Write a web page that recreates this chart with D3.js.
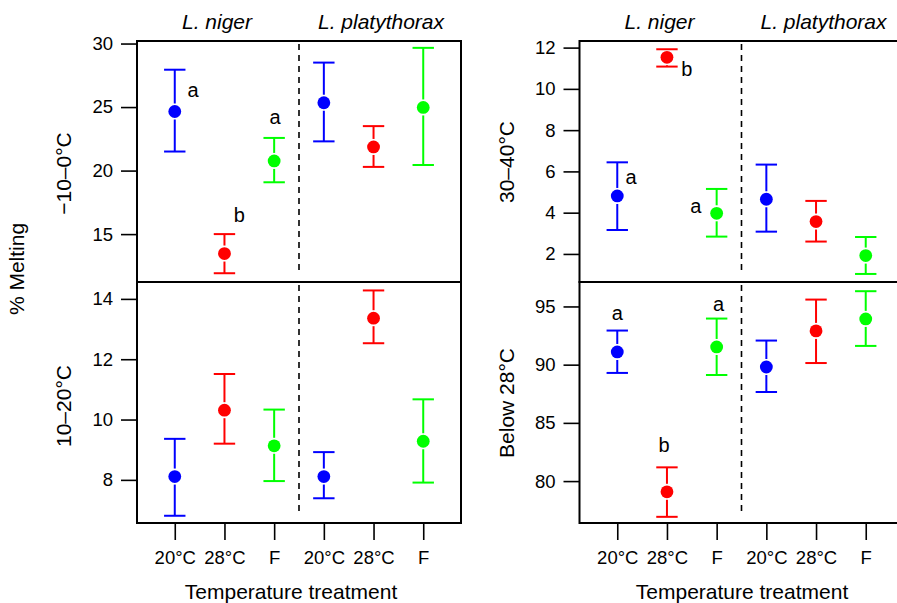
<!DOCTYPE html>
<html>
<head>
<meta charset="utf-8">
<script src="https://cdn.jsdelivr.net/npm/d3@7"></script>
<style>
  body { margin: 0; background: #fff; }
  svg text { font-family: "Liberation Sans", Arial, sans-serif; fill: #000; }
</style>
</head>
<body>
<svg id="chart" width="897" height="603"></svg>
<script>
// ---- data -------------------------------------------------------------------
var treatments = ["20°C", "28°C", "F", "20°C", "28°C", "F"];
var species    = ["L. niger", "L. platythorax"];
var speciesAt  = [1.85, 5.15];
var treatColor = ["#0000ff", "#ff0000", "#00ff00", "#0000ff", "#ff0000", "#00ff00"];

var panelNames = ["\u221210\u20130°C", "10\u201320°C", "30\u201340°C", "Below 28°C"];

// -10-0 C
var meanCold = [24.65, 13.47, 20.76, 25.34, 21.86, 24.97];
var loCold   = [21.50, 11.92, 19.08, 22.30, 20.29, 20.44];
var hiCold   = [27.94, 15.00, 22.57, 28.50, 23.50, 29.66];
var ticksCold = [15, 20, 25, 30];

// 10-20 C
var meanMid = [8.11, 10.31, 9.13, 8.11, 13.36, 9.28];
var loMid   = [6.81,  9.20, 7.96, 7.39, 12.53, 7.91];
var hiMid   = [9.36, 11.51, 10.33, 8.92, 14.28, 10.67];
var ticksMid = [8, 10, 12, 14];

// 30-40 C
var meanHot = [4.81, 11.53, 3.97, 4.65, 3.57, 1.92];
var loHot   = [3.16, 11.08, 2.84, 3.08, 2.60, 1.03];
var hiHot   = [6.44, 11.92, 5.15, 6.33, 4.57, 2.82];
var ticksHot = [2, 4, 6, 8, 10, 12];

// below 28 C
var meanLow = [91.09, 79.08, 91.52, 89.80, 92.90, 93.93];
var loLow   = [89.29, 76.93, 89.11, 87.65, 90.14, 91.61];
var hiLow   = [92.93, 81.18, 93.96, 92.07, 95.59, 96.31];
var ticksLow = [80, 85, 90, 95];

// significance letters: [x position, y value, letter]
var lettersCold = [[1.37, 25.83, "a"], [2.30, 15.98, "b"], [3.02, 23.67, "a"]];
var lettersHot  = [[1.28, 5.38, "a"], [2.40, 10.62, "b"], [2.58, 4.00, "a"]];
var lettersLow  = [[1.00, 93.84, "a"], [1.94, 82.52, "b"], [3.04, 94.63, "a"]];

// ---- layout -----------------------------------------------------------------
var svg = d3.select("#chart");
var boxW = 324, topY = 41, midY = 282, botY = 523;
var xDomain = [0.24, 6.76];

var columns = [
  { left: 137,   xlabAt: 291 },
  { left: 579.5, xlabAt: 742 }
];

var panels = [
  { col: 0, top: topY, bottom: midY, domain: [11.23, 30.2], name: panelNames[0], nameY: 173.5,
    mean: meanCold, lo: loCold, hi: hiCold, ticks: ticksCold, letters: lettersCold },
  { col: 0, top: midY, bottom: botY, domain: [6.57, 14.56], name: panelNames[1], nameY: 406,
    mean: meanMid, lo: loMid, hi: hiMid, ticks: ticksMid, letters: [] },
  { col: 1, top: topY, bottom: midY, domain: [0.64, 12.32], name: panelNames[2], nameY: 162,
    mean: meanHot, lo: loHot, hi: hiHot, ticks: ticksHot, letters: lettersHot },
  { col: 1, top: midY, bottom: botY, domain: [76.4, 97.1], name: panelNames[3], nameY: 403,
    mean: meanLow, lo: loLow, hi: hiLow, ticks: ticksLow, letters: lettersLow }
];

var capHalf = 10.7, gap = 8, dotR = 6.4;

columns.forEach(function(c) {
  c.x = d3.scaleLinear().domain(xDomain).range([c.left, c.left + boxW]);
});

panels.forEach(function(p) {
  var c = columns[p.col];
  var x = c.x;
  var y = d3.scaleLinear().domain(p.domain).range([p.bottom, p.top]);
  var g = svg.append("g");

  // y axis
  var yAxis = g.append("g")
    .attr("transform", "translate(" + c.left + ",0)")
    .call(d3.axisLeft(y).tickValues(p.ticks).tickSize(16).tickPadding(8).tickFormat(d3.format("d")));
  yAxis.select(".domain").remove();
  yAxis.selectAll(".tick line").attr("stroke", "#000").attr("stroke-width", 1.6);
  yAxis.selectAll(".tick text").style("font-size", "18.5px").attr("fill", "#000")
    .style("font-family", "'Liberation Sans', Arial, sans-serif");

  // panel name
  g.append("text")
    .attr("transform", "translate(" + (c.left - 66) + "," + p.nameY + ") rotate(-90)")
    .attr("text-anchor", "middle")
    .style("font-size", "21px")
    .text(p.name);

  // dashed divider between species
  g.append("line")
    .attr("x1", x(3.5)).attr("x2", x(3.5))
    .attr("y1", p.top + 3).attr("y2", p.bottom - 12)
    .attr("stroke", "#000").attr("stroke-width", 1.6)
    .attr("stroke-dasharray", "6,5");

  // error bars
  p.mean.forEach(function(m, i) {
    var cx = x(i + 1), ym = y(m), yh = y(p.hi[i]), yl = y(p.lo[i]);
    var col = treatColor[i];
    var bar = g.append("g").attr("stroke", col).attr("stroke-width", 2);
    if (ym - gap > yh) bar.append("line").attr("x1", cx).attr("x2", cx).attr("y1", yh).attr("y2", ym - gap);
    if (ym + gap < yl) bar.append("line").attr("x1", cx).attr("x2", cx).attr("y1", ym + gap).attr("y2", yl);
    bar.append("line").attr("x1", cx - capHalf).attr("x2", cx + capHalf).attr("y1", yh).attr("y2", yh);
    bar.append("line").attr("x1", cx - capHalf).attr("x2", cx + capHalf).attr("y1", yl).attr("y2", yl);
    g.append("circle").attr("cx", cx).attr("cy", ym).attr("r", dotR).attr("fill", col);
  });

  // letters
  p.letters.forEach(function(l) {
    g.append("text")
      .attr("x", x(l[0])).attr("y", y(l[1]))
      .attr("text-anchor", "middle")
      .style("font-size", "20px")
      .text(l[2]);
  });

  // box
  g.append("rect")
    .attr("x", c.left).attr("y", p.top)
    .attr("width", boxW).attr("height", p.bottom - p.top)
    .attr("fill", "none").attr("stroke", "#000").attr("stroke-width", 2);

  // top: species names; bottom: x axis
  if (p.top === topY) {
    species.forEach(function(s, k) {
      g.append("text")
        .attr("x", x(speciesAt[k])).attr("y", 29)
        .attr("text-anchor", "middle")
        .style("font-size", "21px").style("font-style", "italic")
        .text(s);
    });
  } else {
    var xAxis = g.append("g")
      .attr("transform", "translate(0," + botY + ")")
      .call(d3.axisBottom(x).tickValues(d3.range(1, 7)).tickSize(17).tickPadding(11)
        .tickFormat(function(d) { return treatments[d - 1]; }));
    xAxis.select(".domain").remove();
    xAxis.selectAll(".tick line").attr("stroke", "#000").attr("stroke-width", 1.6);
    xAxis.selectAll(".tick text").style("font-size", "18.5px").attr("fill", "#000")
      .style("font-family", "'Liberation Sans', Arial, sans-serif");
    g.append("text")
      .attr("x", c.xlabAt).attr("y", 599)
      .attr("text-anchor", "middle")
      .style("font-size", "21px")
      .text("Temperature treatment");
  }
});

// overall y label
svg.append("text")
  .attr("transform", "translate(24,269) rotate(-90)")
  .attr("text-anchor", "middle")
  .style("font-size", "21px")
  .text("% Melting");
</script>
</body>
</html>
